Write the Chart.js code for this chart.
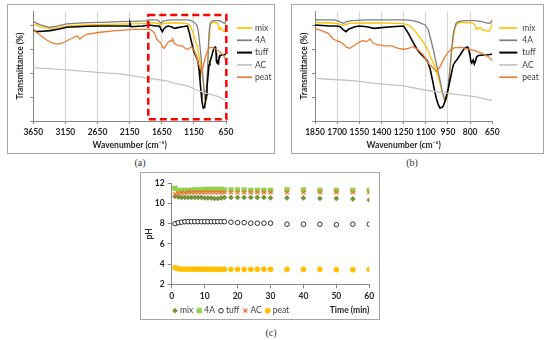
<!DOCTYPE html>
<html>
<head>
<meta charset="utf-8">
<script src="https://cdn.jsdelivr.net/npm/chart.js@4/dist/chart.umd.min.js"></script>
<style>
body { margin: 0; background: #fff; width: 550px; height: 340px; position: relative; overflow: hidden; }
.panel { position: absolute; border: 1px solid #a6a6a6; }
.panel canvas { display: block; }
.cap { position: absolute; font-family: 'Liberation Serif', 'DejaVu Serif', serif; font-size: 10px; color: #333; transform: translateX(-50%); }
</style>
</head>
<body>
<div class="panel" style="left:7px;top:4px;width:266px;height:148px"><canvas id="chartA" width="266" height="148"></canvas></div>
<div class="panel" style="left:291px;top:4px;width:251px;height:148px"><canvas id="chartB" width="251" height="148"></canvas></div>
<div class="panel" style="left:140px;top:172px;width:238px;height:146px"><canvas id="chartC" width="238" height="146"></canvas></div>
<div class="cap" style="left:140px;top:157px">(a)</div>
<div class="cap" style="left:412px;top:157px">(b)</div>
<div class="cap" style="left:271px;top:327px">(c)</div>
<script>
// series names (same order in every panel)
const names = ['mix', '4A', 'tuff', 'AC', 'peat'];

// FTIR spectra: [wavenumber cm-1, transmittance]
const mixSpec = [[3650, 81.7], [3550, 79.4], [3400, 78.0], [3250, 78.9], [3100, 80.0], [2800, 80.8], [2500, 81.3],
  [2150, 81.7], [1900, 82.2], [1850, 82.8], [1750, 82.5], [1700, 82.2], [1660, 80.6], [1620, 82.2], [1550, 82.5],
  [1400, 82.5], [1300, 82.2], [1250, 82.0], [1218, 80.8], [1185, 77.5], [1162, 73.8], [1130, 68.5], [1094, 62.0],
  [1065, 53.0], [1038, 45.7], [1015, 36.0], [1004, 31.7], [990, 24.0], [975, 18.5], [968, 17.1], [958, 19.0],
  [948, 26.0], [936, 42.0], [925, 58.0], [914, 70.0], [903, 78.0], [890, 81.5], [870, 82.8], [840, 83.1], [812, 82.8],
  [780, 82.2], [767, 80.8], [758, 77.2], [745, 78.0], [733, 78.6], [722, 77.2], [711, 76.6], [690, 76.1], [677, 75.2],
  [665, 76.6], [655, 80.0], [650, 82.2]];
const zeoSpec = [[3650, 83.6], [3550, 81.1], [3400, 78.9], [3250, 80.3], [3131, 81.7], [2800, 82.8], [2600, 83.1],
  [2300, 83.6], [2100, 83.9], [1900, 84.3], [1850, 85.1], [1720, 85.1], [1690, 84.0], [1660, 82.2], [1630, 83.9],
  [1600, 84.5], [1500, 85.1], [1250, 85.1], [1200, 84.7], [1160, 83.6], [1130, 82.2], [1105, 80.8], [1083, 76.6],
  [1065, 68.0], [1049, 59.8], [1030, 49.0], [1004, 34.5], [990, 26.0], [978, 20.0], [970, 17.1], [960, 19.0],
  [950, 27.0], [936, 45.7], [925, 61.0], [914, 73.8], [896, 82.2], [880, 83.6], [846, 84.5], [767, 84.5],
  [720, 83.6], [677, 82.2], [660, 82.8], [650, 85.1]];
const tuffSpec = [[3650, 76.6], [3600, 75.2], [3500, 75.6], [3390, 76.1], [3250, 77.5], [3131, 78.9], [2800, 79.7],
  [2612, 80.0], [2300, 80.0], [2160, 80.0], [2145, 82.2], [2130, 79.4], [1950, 80.0], [1850, 80.8], [1750, 80.0],
  [1700, 80.0], [1680, 79.4], [1660, 77.0], [1640, 75.2], [1620, 77.5], [1580, 79.4], [1550, 80.0], [1500, 79.4],
  [1450, 78.0], [1400, 78.6], [1330, 79.4], [1250, 80.0], [1218, 73.8], [1185, 66.0], [1160, 60.4], [1139, 57.0],
  [1110, 53.5], [1090, 50.7], [1070, 43.5], [1055, 34.5], [1038, 24.0], [1026, 17.7], [1015, 13.5], [1004, 10.9],
  [990, 11.5], [982, 12.6], [970, 16.5], [959, 21.9], [947, 28.0], [936, 34.5], [914, 47.2], [900, 50.0],
  [891, 51.4], [868, 55.6], [846, 60.0], [834, 61.5], [819, 62.3], [812, 61.5], [805, 57.5], [801, 55.6],
  [795, 50.0], [789, 48.8], [784, 50.5], [779, 51.4], [772, 48.0], [765, 50.0], [756, 53.9], [745, 55.2],
  [711, 55.6], [690, 55.6], [666, 56.0], [650, 56.4]];
const acSpec = [[3650, 44.9], [3131, 43.0], [2612, 40.8], [2300, 39.6], [2093, 37.9], [1850, 35.9], [1670, 34.5],
  [1579, 33.7], [1444, 31.7], [1250, 29.5], [1106, 26.1], [948, 23.3], [767, 20.5], [650, 17.1]];
const peatSpec = [[3650, 77.2], [3600, 74.5], [3546, 72.4], [3442, 68.2], [3339, 65.4], [3261, 64.8], [3183, 65.9],
  [3079, 68.8], [2975, 71.6], [2945, 70.5], [2925, 68.8], [2897, 70.5], [2820, 73.0], [2612, 74.7], [2353, 76.1],
  [2093, 77.2], [1900, 77.2], [1850, 77.5], [1805, 76.1], [1760, 73.8], [1726, 68.8], [1703, 67.6], [1670, 66.0],
  [1636, 62.0], [1613, 61.2], [1579, 64.0], [1545, 66.8], [1523, 67.6], [1500, 66.8], [1478, 69.1], [1455, 65.4],
  [1421, 64.0], [1376, 63.2], [1331, 63.2], [1286, 61.2], [1252, 60.4], [1218, 61.2], [1185, 62.6], [1151, 59.8],
  [1117, 55.6], [1083, 48.6], [1049, 44.4], [1027, 41.5], [1004, 45.8], [970, 54.2], [936, 59.8], [903, 61.8],
  [858, 62.0], [812, 60.4], [767, 59.2], [722, 57.0], [677, 54.2], [650, 50.8]];
const spectra = [mixSpec, zeoSpec, tuffSpec, acSpec, peatSpec];

// pH over time
const times = [1, 2, 3, 4, 5, 6, 7, 8, 9, 10, 11, 12, 13, 14, 15, 16, 18, 20, 22, 24, 26, 28, 30, 35, 40, 45, 50, 55, 60];
const phMix = [10.7, 10.65, 10.6, 10.6, 10.6, 10.6, 10.6, 10.6, 10.6, 10.55, 10.55, 10.55, 10.5, 10.5, 10.55, 10.6,
  10.6, 10.6, 10.6, 10.6, 10.6, 10.6, 10.55, 10.55, 10.55, 10.5, 10.5, 10.45, 10.35];
const ph4A = [11.5, 11.3, 11.3, 11.3, 11.3, 11.3, 11.35, 11.35, 11.35, 11.4, 11.4, 11.4, 11.4, 11.4, 11.4, 11.35,
  11.35, 11.35, 11.35, 11.3, 11.3, 11.3, 11.3, 11.35, 11.35, 11.3, 11.3, 11.3, 11.3];
const phTuff = [8.0, 8.1, 8.15, 8.2, 8.2, 8.2, 8.2, 8.2, 8.2, 8.2, 8.2, 8.2, 8.2, 8.2, 8.2, 8.2,
  8.15, 8.1, 8.1, 8.05, 8.05, 8.05, 8.05, 7.95, 7.95, 7.95, 7.9, 7.95, 7.95];
const phAC = [10.9, 11.0, 11.05, 11.05, 11.1, 11.1, 11.1, 11.1, 11.1, 11.1, 11.1, 11.1, 11.1, 11.1, 11.1, 11.1,
  11.1, 11.1, 11.1, 11.1, 11.1, 11.1, 11.1, 11.1, 11.1, 11.1, 11.1, 11.1, 11.1];
const phPeat = [3.65, 3.55, 3.5, 3.5, 3.5, 3.5, 3.5, 3.5, 3.5, 3.5, 3.5, 3.5, 3.48, 3.48, 3.48, 3.48,
  3.48, 3.48, 3.48, 3.48, 3.48, 3.48, 3.48, 3.48, 3.48, 3.48, 3.45, 3.45, 3.48];
const phSeries = [phMix, ph4A, phTuff, phAC, phPeat];

// tick labels
const wnTicksA = [650, 1150, 1650, 2150, 2650, 3150, 3650];
const wnTicksB = [650, 800, 950, 1100, 1250, 1400, 1550, 1700, 1850];
const transTicks = [0, 20, 40, 60, 80];
const timeTicks = [0, 10, 20, 30, 40, 50, 60];
const phTicks = [2, 4, 6, 8, 10, 12];

// styles
const lineColors = ['#FFC000', '#7F7F7F', '#000000', '#C3C3C3', '#ED7D31'];
const lineWidths = [1.3, 1.3, 1.6, 1.3, 1.3];
const markStyle = ['rectRot', 'rect', 'circle', 'crossRot', 'circle'];
const markSize = [2.6, 3.4, 2.3, 2.8, 2.6];
const markFill = ['#76923C', '#92D050', '#FFFFFF', '#F26B2A', '#FFC000'];
const markLine = ['#76923C', '#92D050', '#000000', '#F26B2A', '#FFC000'];
const markLineW = [0.5, 0.5, 0.8, 1.2, 0.5];

Chart.defaults.font.family = 'Lato, sans-serif';
Chart.defaults.color = '#262626';
const axisGray = '#868686';
const boldFont = { size: 8.5, weight: 'bold' };
const plain = v => String(v);

// legend as a column of line samples to the right of the plot
const lineLegend = {
  id: 'lineLegend',
  afterDraw(chart, args, o) {
    const ctx = chart.ctx;
    const x0 = chart.chartArea.right + o.dx;
    ctx.save();
    ctx.font = '8.5px Lato, sans-serif';
    ctx.textBaseline = 'middle';
    chart.data.datasets.forEach((ds, i) => {
      const y = o.top + i * o.step;
      ctx.strokeStyle = ds.borderColor;
      ctx.lineWidth = ds.borderWidth + 0.4;
      ctx.beginPath();
      ctx.moveTo(x0, y);
      ctx.lineTo(x0 + o.len, y);
      ctx.stroke();
      ctx.fillStyle = '#404040';
      ctx.fillText(ds.label, x0 + o.len + o.gap, y);
    });
    ctx.restore();
  }
};

// red dashed box marking the zoomed region
const zoomBox = {
  id: 'zoomBox',
  afterDatasetsDraw(chart, args, o) {
    if (!o.show) return;
    const { x, y } = chart.scales;
    const ctx = chart.ctx;
    const a = x.getPixelForValue(o.x0), b = x.getPixelForValue(o.x1);
    const t = y.getPixelForValue(o.y1), btm = y.getPixelForValue(o.y0);
    ctx.save();
    ctx.strokeStyle = '#FF0000';
    ctx.lineWidth = 2.5;
    ctx.setLineDash([7, 4]);
    ctx.strokeRect(Math.min(a, b), t, Math.abs(b - a), btm - t);
    ctx.restore();
  }
};

// legend as one row of markers at the bottom left
const pointLegend = {
  id: 'pointLegend',
  afterDraw(chart, args, o) {
    const ctx = chart.ctx;
    let x = o.left;
    ctx.save();
    ctx.font = '8.5px Lato, sans-serif';
    ctx.textBaseline = 'middle';
    chart.data.datasets.forEach(ds => {
      ctx.fillStyle = ds.backgroundColor;
      ctx.strokeStyle = ds.borderColor;
      ctx.lineWidth = ds.borderWidth;
      Chart.helpers.drawPoint(ctx, { pointStyle: ds.pointStyle, radius: ds.pointRadius, borderWidth: ds.borderWidth, rotation: 0 }, x, o.y);
      ctx.fillStyle = '#404040';
      ctx.fillText(ds.label, x + 5, o.y);
      x += 5 + ctx.measureText(ds.label).width + 6;
    });
    ctx.restore();
  }
};

function spectrumChart(id, ticks, yWidth, padRight, legend, box) {
  const lo = Math.min(...ticks), hi = Math.max(...ticks);
  return new Chart(document.getElementById(id), {
    type: 'scatter',
    data: {
      datasets: names.map((n, i) => ({
        label: n,
        data: spectra[i].map(p => ({ x: p[0], y: p[1] })),
        showLine: true,
        pointRadius: 0,
        borderColor: lineColors[i],
        borderWidth: lineWidths[i],
        order: names.length - i
      }))
    },
    options: {
      responsive: false,
      animation: false,
      layout: { padding: { top: 6, right: padRight, left: 0, bottom: 0 } },
      plugins: {
        legend: { display: false },
        tooltip: { enabled: false },
        lineLegend: legend,
        zoomBox: box
      },
      scales: {
        x: {
          type: 'linear', reverse: true, min: lo, max: hi,
          afterBuildTicks: s => { s.ticks = ticks.map(v => ({ value: v })); },
          afterFit: s => { s.height = 32; },
          grid: {
            color: c => (c.tick && (c.tick.value === lo || c.tick.value === hi)) ? 'rgba(0,0,0,0)' : '#d6d6d6',
            tickColor: axisGray, tickLength: 3
          },
          border: { color: axisGray },
          ticks: { font: boldFont, padding: 3, maxRotation: 0, autoSkip: false, callback: plain },
          title: { display: true, text: 'Wavenumber (cm⁻¹)', font: boldFont, padding: { top: 0, bottom: 3 } }
        },
        y: {
          min: 0, max: 92.6,
          afterBuildTicks: s => { s.ticks = transTicks.map(v => ({ value: v })); },
          afterFit: s => { s.width = yWidth; },
          grid: { drawOnChartArea: false, tickColor: axisGray, tickLength: 3 },
          border: { color: axisGray },
          ticks: { display: false },
          title: { display: true, text: 'Transmittance (%)', font: boldFont, padding: { top: 7, bottom: 0 } }
        }
      }
    },
    plugins: [lineLegend, zoomBox]
  });
}

spectrumChart('chartA', wnTicksA, 25.3, 48, { dx: 11, len: 15, gap: 3, top: 23, step: 12.3 },
  { show: true, x0: 1860, x1: 645, y0: 1.4, y1: 89.3 });
spectrumChart('chartB', wnTicksB, 23, 50.7, { dx: 7, len: 18, gap: 5, top: 23, step: 12.3 },
  { show: false });

new Chart(document.getElementById('chartC'), {
  type: 'scatter',
  data: {
    datasets: names.map((n, i) => ({
      label: n,
      data: times.map((t, k) => ({ x: t, y: phSeries[i][k] })),
      pointStyle: markStyle[i],
      pointRadius: markSize[i],
      backgroundColor: markFill[i],
      borderColor: markLine[i],
      borderWidth: markLineW[i],
      order: names.length - i
    }))
  },
  options: {
    responsive: false,
    animation: false,
    layout: { padding: { top: 10.3, right: 9.7, left: 0, bottom: 0 } },
    plugins: {
      legend: { display: false },
      tooltip: { enabled: false },
      pointLegend: { left: 34, y: 137.7 }
    },
    scales: {
      x: {
        type: 'linear', min: 0, max: 60,
        afterBuildTicks: s => { s.ticks = timeTicks.map(v => ({ value: v })); },
        afterFit: s => { s.height = 34.7; },
        grid: { drawOnChartArea: false, tickColor: axisGray, tickLength: 4 },
        border: { color: axisGray },
        ticks: { font: boldFont, padding: 3, maxRotation: 0, autoSkip: false, callback: plain },
        title: { display: true, text: 'Time (min)', align: 'end', font: boldFont, padding: { top: 0, bottom: 3.2 } }
      },
      y: {
        min: 2, max: 12,
        afterBuildTicks: s => { s.ticks = phTicks.map(v => ({ value: v })); },
        afterFit: s => { s.width = 30.7; },
        grid: { drawOnChartArea: false, tickColor: axisGray, tickLength: 4 },
        border: { color: axisGray },
        ticks: { font: boldFont, padding: 3, callback: plain },
        title: { display: true, text: 'pH', font: boldFont, padding: { top: 2.9, bottom: 0 } }
      }
    }
  },
  plugins: [pointLegend]
});
</script>
</body>
</html>
